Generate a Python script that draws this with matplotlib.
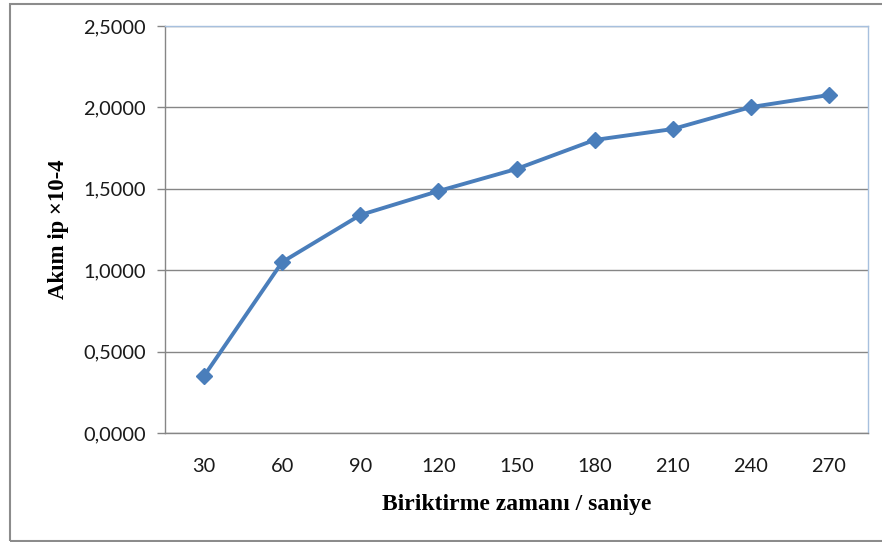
import matplotlib.pyplot as plt
from matplotlib.patches import Rectangle

# Accumulation time (s) vs peak current
times = ['30', '60', '90', '120', '150', '180', '210', '240', '270']
current = [0.350, 1.050, 1.339, 1.486, 1.622, 1.800, 1.867, 2.002, 2.076]
y_ticks = [0.0, 0.5, 1.0, 1.5, 2.0, 2.5]

fig = plt.figure(figsize=(8.82, 5.42), dpi=100)
ax = fig.add_axes([165 / 882, 109 / 542, 703 / 882, 407 / 542])

x = list(range(len(times)))
ax.plot(x, current, color='#4a7ebb', linewidth=2.8, marker='D',
        markersize=8.5, markerfacecolor='#4a7ebb', markeredgecolor='#4a7ebb')

ax.set_xlim(-0.5, len(times) - 0.5)
ax.set_ylim(0, 2.5)
ax.set_xticks(x)
ax.set_xticklabels(times, family='Lato', fontsize=14.4, color='#1a1a1a')
ax.set_yticks(y_ticks)
ax.set_yticklabels([f'{v:.4f}'.replace('.', ',') for v in y_ticks],
                   family='Lato', fontsize=14.4, color='#1a1a1a')
ax.tick_params(axis='x', length=0, pad=18)
ax.tick_params(axis='y', length=6, width=1, color='#868686', pad=8)

ax.grid(axis='y', color='#868686', linewidth=1)
ax.set_axisbelow(True)
for side in ['left', 'bottom']:
    ax.spines[side].set_color('#868686')
    ax.spines[side].set_linewidth(1)
for side in ['top', 'right']:
    ax.spines[side].set_color('#a7c0de')
    ax.spines[side].set_linewidth(1)

ax.set_xlabel('Biriktirme zamanı / saniye', family='Liberation Serif',
              fontweight='bold', fontsize=17, labelpad=14)
ax.set_ylabel('Akım ip ×10-4', family='Liberation Serif',
              fontweight='bold', fontsize=16.4, labelpad=10)

# outer chart border
fig.patches.append(Rectangle((10 / 882, 1.5 / 542), 880 / 882, 537 / 542,
                             transform=fig.transFigure, fill=False,
                             edgecolor='#8c8c8c', linewidth=1.5))

fig.savefig('out.png', dpi=100)
